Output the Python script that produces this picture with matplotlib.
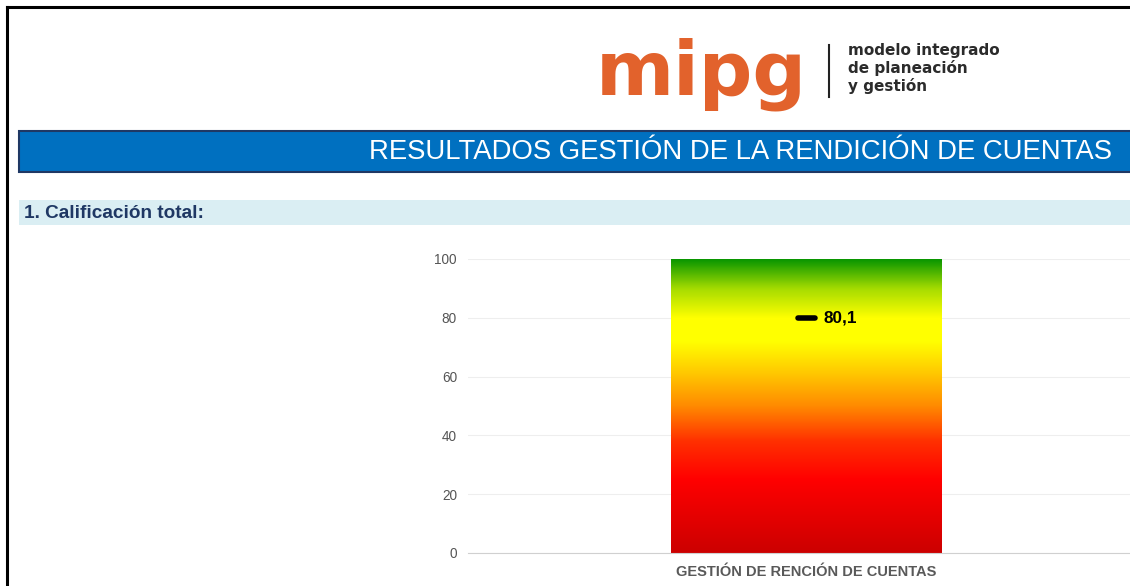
import numpy as np
import matplotlib
matplotlib.use("Agg")
import matplotlib.pyplot as plt
from matplotlib.colors import LinearSegmentedColormap
from matplotlib.patches import Rectangle
from matplotlib.lines import Line2D

plt.rcParams['font.family'] = ['Liberation Sans', 'DejaVu Sans']

# ---- data ----
categories = ["GESTIÓN DE RENCIÓN DE CUENTAS"]
scale_max = [100]
scores = [80.1]
score_labels = ["80,1"]
y_ticks = [0, 20, 40, 60, 80, 100]
title = "RESULTADOS GESTIÓN DE LA RENDICIÓN DE CUENTAS"
section = "1. Calificación total:"
logo_word = "mipg"
logo_lines = ["modelo integrado", "de planeación", "y gestión"]

W, H = 1130, 586
fig = plt.figure(figsize=(W / 100, H / 100), dpi=100)
fig.patch.set_facecolor("white")

def fx(px):
    return px / W

def fy(py):
    return 1 - py / H

# page border (top & left)
fig.add_artist(Line2D([fx(7), 1.0], [fy(7), fy(7)], color="black", lw=2.2))
fig.add_artist(Line2D([fx(7), fx(7)], [fy(7), 0.0], color="black", lw=2.2))

# logo
fig.text(fx(701), fy(74), logo_word, color="#E2622C", fontsize=54, fontweight="bold",
         ha="center", va="center", family=["DejaVu Sans"])
fig.add_artist(Line2D([fx(829), fx(829)], [fy(45), fy(97)], color="#222222", lw=1.5))
for i, t in enumerate(logo_lines):
    fig.text(fx(848), fy(51 + i * 17.5), t, color="#2b2b2b", fontsize=11,
             fontweight="bold", ha="left", va="center", family=["DejaVu Sans"])

# title banner
fig.add_artist(Rectangle((fx(19), fy(172)), 1.0 - fx(19) + 0.01, fy(131) - fy(172),
                         transform=fig.transFigure, facecolor="#0070C0",
                         edgecolor="#1F3864", lw=1.5))
fig.text(fx(1112), fy(152), title, color="white", fontsize=19.8, ha="right", va="center")

# section bar
fig.add_artist(Rectangle((fx(19), fy(225)), 1.0 - fx(19), fy(200) - fy(225),
                         transform=fig.transFigure, facecolor="#DAEEF3", edgecolor="none"))
fig.text(fx(24), fy(213), section, color="#1F3864", fontsize=13.7, fontweight="bold",
         ha="left", va="center")

# chart axes
ax_left, ax_right = 468, 1145
ax_top, ax_bottom = 259, 553
ax = fig.add_axes([fx(ax_left), fy(ax_bottom), fx(ax_right - ax_left), fy(ax_top) - fy(ax_bottom)])
ax.set_facecolor("none")
ax.set_ylim(0, 100)
ax.set_xlim(-0.5, len(categories) - 0.5)
ax.set_yticks(y_ticks)
ax.set_yticklabels([str(v) for v in y_ticks], color="#555555", fontsize=9.8)
ax.tick_params(axis="y", length=0, pad=8)
ax.tick_params(axis="x", length=0, pad=9)
ax.set_xticks(range(len(categories)))
ax.set_xticklabels(categories, color="#595959", fontsize=10.5, fontweight="bold")
for s in ["top", "right", "left"]:
    ax.spines[s].set_visible(False)
ax.spines["bottom"].set_color("#d0d0d0")
ax.grid(axis="y", color="#eeeeee", lw=0.8)
ax.set_axisbelow(True)

cmap = LinearSegmentedColormap.from_list("rag", [
    (0.0, "#CC0000"), (0.25, "#FF0000"), (0.38, "#FF3000"), (0.5, "#FF8A00"),
    (0.62, "#FFCC00"), (0.72, "#FFFF00"), (0.80, "#FFFF00"), (0.90, "#A6DC00"),
    (1.0, "#0A9600")])

bw = 0.4
bars = ax.bar(range(len(categories)), scale_max, width=bw, color="none", edgecolor="none")
for i, (b, vmax) in enumerate(zip(bars, scale_max)):
    grad = np.linspace(0, 1, 256).reshape(-1, 1)
    im = ax.imshow(grad, cmap=cmap, origin="lower", aspect="auto",
                   extent=[i - bw / 2, i + bw / 2, 0, vmax], zorder=2)
    im.set_clip_path(b)

for i, (s, lab) in enumerate(zip(scores, score_labels)):
    ax.plot([i - 0.013, i + 0.013], [s, s], color="black", lw=4, solid_capstyle="round", zorder=3)
    ax.text(i + 0.025, s, lab, color="black", fontsize=12.3, fontweight="bold",
            ha="left", va="center", zorder=3)

ax.set_xlim(-0.5, len(categories) - 0.5)
ax.set_ylim(0, 100)

fig.savefig("out.png", dpi=100)
